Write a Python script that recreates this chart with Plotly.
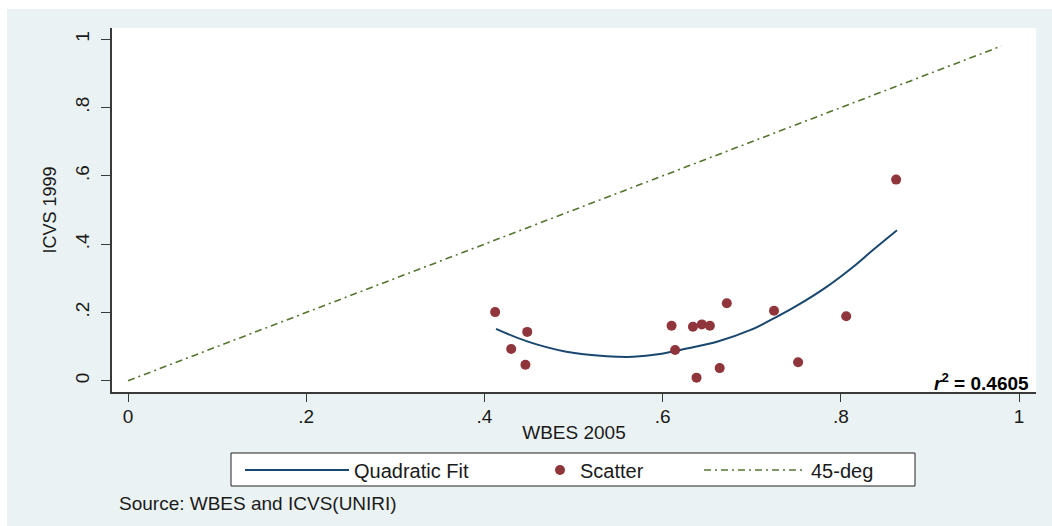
import plotly.graph_objects as go

# ---- data ----
wbes_2005 = [0.412, 0.448, 0.430, 0.446, 0.610, 0.614, 0.634, 0.644, 0.653,
             0.672, 0.638, 0.664, 0.725, 0.752, 0.806, 0.862]
icvs_1999 = [0.201, 0.143, 0.093, 0.047, 0.161, 0.090, 0.158, 0.165, 0.161,
             0.227, 0.009, 0.037, 0.205, 0.054, 0.189, 0.589]

fit_x = [0.413, 0.447, 0.492, 0.537, 0.567, 0.597, 0.623, 0.661, 0.698,
         0.728, 0.754, 0.784, 0.814, 0.836, 0.863]
fit_y = [0.152, 0.116, 0.085, 0.072, 0.070, 0.078, 0.092, 0.114, 0.148,
         0.187, 0.225, 0.275, 0.334, 0.383, 0.441]

diag_x = [0.0, 0.98]
diag_y = [0.0, 0.98]

tick_vals = [0, 0.2, 0.4, 0.6, 0.8, 1]
tick_text = ["0", ".2", ".4", ".6", ".8", "1"]

r2_text = "<b><i>r</i><sup>2</sup> = 0.4605</b>"
x_title = "WBES 2005"
y_title = "ICVS 1999"
source_text = "Source: WBES and ICVS(UNIRI)"

# ---- styles ----
BG = "#EAF2F3"
NAVY = "#1A476F"
MAROON = "#90353B"
GREEN = "#55752F"
AXIS = "#3a3a3a"
FONT = "Liberation Sans, Arial, sans-serif"

# figure geometry (px)
W, H = 1052, 526
ML, MR, MT, MB = 112, 16, 28, 134
PW, PH = W - ML - MR, H - MT - MB


def px_x(p):
    return (p - ML) / PW


def px_y(p):
    return (H - MB - p) / PH


fig = go.Figure()
fig.add_trace(go.Scatter(x=fit_x, y=fit_y, mode="lines", name="Quadratic Fit",
                         legend="legend",
                         line=dict(color=NAVY, width=2, shape="spline")))
fig.add_trace(go.Scatter(x=wbes_2005, y=icvs_1999, mode="markers", name="Scatter",
                         legend="legend2",
                         marker=dict(color=MAROON, size=10, line=dict(width=0))))
fig.add_trace(go.Scatter(x=diag_x, y=diag_y, mode="lines", name="45-deg",
                         legend="legend3",
                         line=dict(color=GREEN, width=1.6, dash="7px,4px,2px,4px")))

leg_y = px_y(470)
leg_common = dict(orientation="h", yanchor="middle", xanchor="left", y=leg_y,
                  bgcolor="rgba(0,0,0,0)", borderwidth=0,
                  font=dict(size=20, family=FONT, color="#1a1a1a"))

fig.update_layout(
    width=W, height=H,
    margin=dict(l=ML, r=MR, t=MT, b=MB),
    paper_bgcolor="white", plot_bgcolor="rgba(0,0,0,0)",
    font=dict(family=FONT, color="#1a1a1a", size=18),
    showlegend=True,
    legend=dict(x=px_x(240), itemwidth=104, **leg_common),
    legend2=dict(x=px_x(540), itemwidth=30, **leg_common),
    legend3=dict(x=px_x(699), itemwidth=102, **leg_common),
    xaxis=dict(range=[-0.018, 1.019], tickvals=tick_vals, ticktext=tick_text,
               showline=True, linecolor=AXIS, linewidth=1.5, mirror=False,
               ticks="outside", ticklen=8, tickcolor=AXIS, tickwidth=1.2,
               showgrid=False, zeroline=False, tickfont=dict(size=19),
               ticklabelstandoff=-2,
               title=dict(text=x_title, font=dict(size=19), standoff=0)),
    yaxis=dict(range=[-0.033, 1.033], tickvals=tick_vals, ticktext=tick_text,
               showline=True, linecolor=AXIS, linewidth=1.5, mirror=False,
               ticks="outside", ticklen=9, tickcolor=AXIS, tickwidth=1.2,
               showgrid=False, zeroline=False, tickangle=-90,
               tickfont=dict(size=19), ticklabelstandoff=5,
               title=dict(text=y_title, font=dict(size=18), standoff=10)),
    shapes=[
        # light graph-region background (page shows a thin white edge top/left)
        dict(type="rect", xref="paper", yref="paper", layer="below",
             x0=px_x(7), x1=px_x(W + 2), y0=px_y(H + 2), y1=px_y(9),
             fillcolor=BG, line=dict(width=0)),
        # white plot region
        dict(type="rect", xref="paper", yref="paper", layer="below",
             x0=0, x1=1, y0=0, y1=1, fillcolor="white", line=dict(width=0)),
        # legend frame
        dict(type="rect", xref="paper", yref="paper", layer="below",
             x0=px_x(231), x1=px_x(915), y0=px_y(486), y1=px_y(453),
             fillcolor="white", line=dict(color="#222222", width=1)),
    ],
    annotations=[
        dict(text=r2_text, xref="paper", yref="paper", x=px_x(1031), y=px_y(382),
             xanchor="right", yanchor="middle", showarrow=False,
             font=dict(size=19, color="black", family=FONT)),
        dict(text=source_text, xref="paper", yref="paper", x=px_x(117), y=px_y(503),
             xanchor="left", yanchor="middle", showarrow=False,
             font=dict(size=19)),
    ],
)

fig.write_html("out.html")
